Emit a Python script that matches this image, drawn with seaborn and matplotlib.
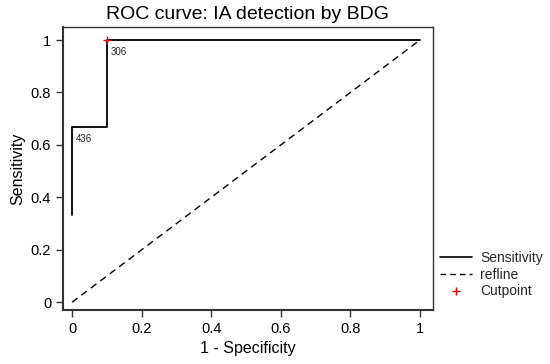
import matplotlib
matplotlib.use("Agg")
import matplotlib.pyplot as plt
import seaborn as sns
import pandas as pd
from matplotlib.lines import Line2D

sns.set_style("ticks")
plt.rcParams['font.family'] = ['Liberation Sans', 'DejaVu Sans']

# Data
fpr = [0.0, 0.0, 0.1, 0.1, 1.0]
sens = [0.3333, 0.6667, 0.6667, 1.0, 1.0]
ref_x = [0.0, 1.0]
ref_y = [0.0, 1.0]
label_x = [0.0, 0.1]
label_y = [0.6667, 1.0]
label_txt = ["436", "306"]
cut_x = [0.1]
cut_y = [1.0]

fig = plt.figure(figsize=(5.5, 3.64), dpi=100)
ax = fig.add_axes([0.1145, 0.148, 0.6725, 0.778])

df = pd.DataFrame({"x": fpr, "y": sens})
ax.plot(df["x"], df["y"], color="black", lw=1.3)
sns.lineplot(x=ref_x, y=ref_y, ax=ax, color="black", lw=1.0, linestyle=(0, (5, 3.5)))
sns.scatterplot(x=cut_x, y=cut_y, ax=ax, marker="+", color="red", s=40, linewidth=1.0, zorder=5)
for xx, yy, t in zip(label_x, label_y, label_txt):
    ax.annotate(t, (xx, yy), xytext=(3, -5), textcoords="offset points",
                fontsize=7, va="top", ha="left", color="#222222")

ax.set_xlim(-0.026, 1.037)
ax.set_ylim(-0.03, 1.05)
ax.set_xticks([0, 0.2, 0.4, 0.6, 0.8, 1])
ax.set_xticklabels(["0", "0.2", "0.4", "0.6", "0.8", "1"])
ax.set_yticks([0, 0.2, 0.4, 0.6, 0.8, 1])
ax.set_yticklabels(["0", "0.2", "0.4", "0.6", "0.8", "1"])
ax.tick_params(labelsize=10.5, length=5, width=1, direction="out", color="#333333", labelcolor="black")
for s in ax.spines.values():
    s.set_linewidth(1.0)
    s.set_color("#333333")
ax.spines['left'].set_linewidth(1.5)
ax.spines['bottom'].set_linewidth(1.5)
ax.set_xlabel("1 - Specificity", fontsize=11.5, color="black")
ax.set_ylabel("Sensitivity", fontsize=11.5, color="black")
ax.set_title("ROC curve: IA detection by BDG", fontsize=14, pad=6, color="black")

handles = [Line2D([], [], color="black", lw=1.2),
           Line2D([], [], color="black", lw=1.0, linestyle=(0, (4, 3))),
           Line2D([], [], color="red", marker="+", linestyle="none", markersize=6)]
fig.legend(handles, ["Sensitivity", "refline", "Cutpoint"], loc="upper left",
           bbox_to_anchor=(0.79, 0.326), frameon=False, fontsize=10,
           handlelength=2.3, handletextpad=0.6, labelspacing=0.2, borderaxespad=0)

fig.savefig("out.png", dpi=100)
